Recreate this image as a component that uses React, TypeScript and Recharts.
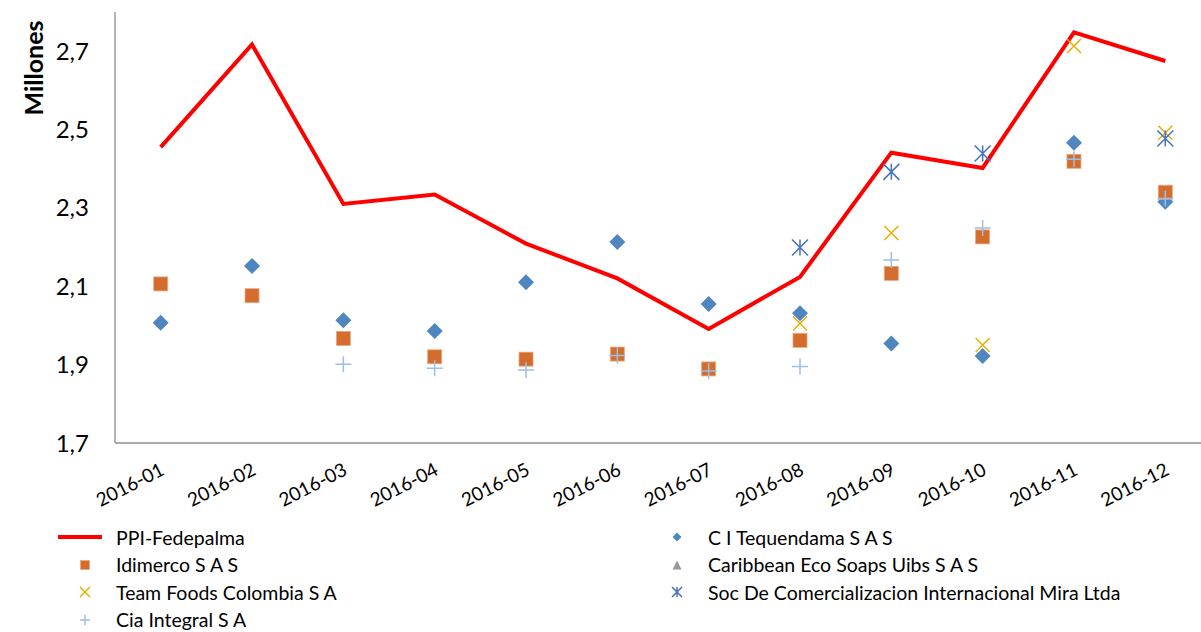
import React from 'react';
import { ComposedChart, Line, XAxis, YAxis, Legend } from 'recharts';

const categories = ['2016-01', '2016-02', '2016-03', '2016-04', '2016-05', '2016-06', '2016-07', '2016-08', '2016-09', '2016-10', '2016-11', '2016-12'];
const ppiFedepalma = [2.455, 2.717, 2.31, 2.334, 2.209, 2.12, 1.991, 2.124, 2.441, 2.402, 2.748, 2.675];
const tequendama = [2.007, 2.152, 2.013, 1.986, 2.11, 2.213, 2.055, 2.031, 1.954, 1.922, 2.466, 2.316];
const idimerco = [2.106, 2.076, 1.967, 1.92, 1.914, 1.927, 1.889, 1.962, 2.133, 2.226, 2.419, 2.34];
const caribbean: (number | null)[] = [null, null, null, null, null, null, null, null, null, null, null, null];
const teamFoods = [null, null, null, null, null, null, null, 2.005, 2.236, 1.95, 2.713, 2.492];
const mira = [null, null, null, null, null, null, null, 2.199, 2.392, 2.439, null, 2.477];
const ciaIntegral = [null, null, 1.901, 1.891, 1.886, 1.923, 1.884, 1.895, 2.167, 2.249, 2.424, 2.324];
const yTicks = [1.7, 1.9, 2.1, 2.3, 2.5, 2.7];

// legend reads row by row, two columns (same order as the series)
const legendOrder = ['ppi', 'tequendama', 'idimerco', 'caribbean', 'teamFoods', 'mira', 'cia'];

const data = categories.map((month, i) => ({
  month,
  ppi: ppiFedepalma[i],
  tequendama: tequendama[i],
  idimerco: idimerco[i],
  caribbean: caribbean[i],
  teamFoods: teamFoods[i],
  mira: mira[i],
  cia: ciaIntegral[i],
}));

const FONT = 'Lato, "Liberation Sans", sans-serif';

const MARKERS: Record<string, { kind: string; color: string }> = {
  ppi: { kind: 'line', color: '#FF0000' },
  tequendama: { kind: 'diamond', color: '#4F86BF' },
  idimerco: { kind: 'square', color: '#D36C2C' },
  caribbean: { kind: 'triangle', color: '#999999' },
  teamFoods: { kind: 'x', color: '#E5AF00' },
  mira: { kind: 'star', color: '#4472C4' },
  cia: { kind: 'plus', color: '#9DBFE6' },
};

function marker(kind: string, cx: number, cy: number, s: number, color: string) {
  const h = s / 2;
  switch (kind) {
    case 'diamond':
      return <path d={`M${cx},${cy - h}L${cx + h},${cy}L${cx},${cy + h}L${cx - h},${cy}Z`} fill={color} />;
    case 'square':
      return <rect x={cx - h} y={cy - h} width={s} height={s} fill={color} stroke="#E9A97E" strokeWidth={0.8} />;
    case 'triangle':
      return <path d={`M${cx},${cy - h}L${cx + h},${cy + h}L${cx - h},${cy + h}Z`} fill={color} />;
    case 'x':
      return <path d={`M${cx - h},${cy - h}L${cx + h},${cy + h}M${cx + h},${cy - h}L${cx - h},${cy + h}`} stroke={color} strokeWidth={1.5} fill="none" />;
    case 'plus':
      return <path d={`M${cx - h},${cy}L${cx + h},${cy}M${cx},${cy - h}L${cx},${cy + h}`} stroke={color} strokeWidth={1.5} fill="none" />;
    case 'star':
      return (
        <path
          d={`M${cx - h},${cy - h}L${cx + h},${cy + h}M${cx + h},${cy - h}L${cx - h},${cy + h}M${cx},${cy - h}L${cx},${cy + h}`}
          stroke={color}
          strokeWidth={1.5}
          fill="none"
        />
      );
    default:
      return null;
  }
}

const dotRenderer = (key: string, size: number) => (p: any) => {
  const m = MARKERS[key];
  if (p.cy == null || p.value == null || (Array.isArray(p.value) && p.value[1] == null)) {
    return <g key={`${key}-${p.index}`} />;
  }
  return <g key={`${key}-${p.index}`}>{marker(m.kind, p.cx, p.cy, size, m.color)}</g>;
};

const XTick = (props: any) => {
  const { x, y, payload } = props;
  return (
    <text
      transform={`translate(${x + 5},${y + 31}) rotate(-27)`}
      textAnchor="end"
      fontSize={19}
      fontFamily={FONT}
      fill="#000"
    >
      {payload.value}
    </text>
  );
};

const LegendContent = (props: any) => {
  const items = [...(props.payload || [])].sort(
    (a: any, b: any) => legendOrder.indexOf(a.dataKey) - legendOrder.indexOf(b.dataKey)
  );
  return (
    <div style={{ position: 'relative', width: 1201, height: 112, fontFamily: FONT, fontSize: 19.5, color: '#000' }}>
      {items.map((item: any, i: number) => {
        const m = MARKERS[item.dataKey];
        const col = i % 2;
        const row = Math.floor(i / 2);
        const left = col === 0 ? 56 : 648;
        const top = 3 + row * 27.6;
        return (
          <div key={item.dataKey} style={{ position: 'absolute', left, top, height: 28, display: 'flex', alignItems: 'center', whiteSpace: 'nowrap' }}>
            <svg width={50} height={20} style={{ display: 'block' }}>
              {m.kind === 'line' ? (
                <line x1={2} y1={10} x2={46} y2={10} stroke={m.color} strokeWidth={4} />
              ) : (
                marker(m.kind, 29, 10, m.kind === 'x' || m.kind === 'plus' || m.kind === 'star' ? 10 : 9, m.color)
              )}
            </svg>
            <span style={{ marginLeft: 10 }}>{item.value}</span>
          </div>
        );
      })}
    </div>
  );
};

export default function App() {
  return (
    <div style={{ position: 'absolute', left: 0, top: 0, width: 1201, height: 632, overflow: 'hidden', background: '#fff' }}>
      <ComposedChart width={1212} height={632} data={data} margin={{ top: 12, right: 1, bottom: 0, left: 0 }}>
        <XAxis
          dataKey="month"
          height={77}
          padding={{ left: 45.7, right: 45.7 }}
          axisLine={{ stroke: '#8C8C8C', strokeWidth: 1.3 }}
          tickLine={false}
          tickSize={0}
          tickMargin={0}
          interval={0}
          tick={<XTick />}
        />
        <YAxis
          width={115}
          domain={[1.7, 2.8]}
          ticks={yTicks}
          allowDataOverflow
          axisLine={{ stroke: '#8C8C8C', strokeWidth: 1.3 }}
          tickLine={false}
          tickSize={0}
          tickMargin={26}
          tick={{ fontSize: 24, fontFamily: FONT, fill: '#000' }}
          tickFormatter={(v: number) => v.toFixed(1).replace('.', ',')}
          label={() => (
            <text
              transform="translate(33,68) rotate(-90)"
              textAnchor="middle"
              dominantBaseline="central"
              fontSize={25}
              fontWeight="bold"
              fontFamily={FONT}
              fill="#000"
            >
              Millones
            </text>
          )}
        />
        <Legend verticalAlign="bottom" content={<LegendContent />} wrapperStyle={{ left: 0, width: 1201, height: 112 }} />
        <Line dataKey="ppi" name="PPI-Fedepalma" stroke="#FF0000" strokeWidth={4} dot={false} activeDot={false} isAnimationActive={false} />
        <Line dataKey="tequendama" name="C I Tequendama S A S" stroke="none" dot={dotRenderer('tequendama', 16)} activeDot={false} isAnimationActive={false} />
        <Line dataKey="idimerco" name="Idimerco S A S" stroke="none" dot={dotRenderer('idimerco', 14)} activeDot={false} isAnimationActive={false} />
        <Line dataKey="caribbean" name="Caribbean Eco Soaps Uibs S A S" stroke="none" dot={dotRenderer('caribbean', 14)} activeDot={false} isAnimationActive={false} />
        <Line dataKey="teamFoods" name="Team Foods Colombia S A" stroke="none" dot={dotRenderer('teamFoods', 14)} activeDot={false} isAnimationActive={false} />
        <Line dataKey="mira" name="Soc De Comercializacion Internacional Mira Ltda" stroke="none" dot={dotRenderer('mira', 16)} activeDot={false} isAnimationActive={false} />
        <Line dataKey="cia" name="Cia Integral S A" stroke="none" dot={dotRenderer('cia', 16)} activeDot={false} isAnimationActive={false} />
      </ComposedChart>
    </div>
  );
}
